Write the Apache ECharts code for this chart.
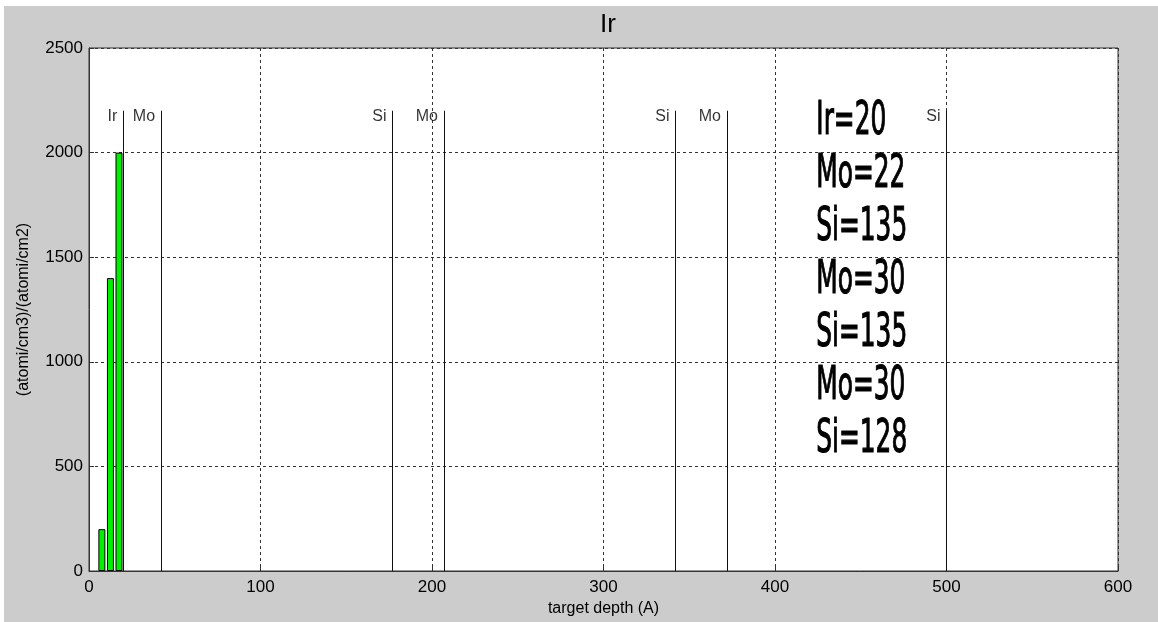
<!DOCTYPE html>
<html lang="en">
<head>
    <meta charset="UTF-8">
    <title>Ir</title>
    <script src="https://cdn.jsdelivr.net/npm/echarts@6/dist/echarts.min.js"></script>
    <style>
        body { margin: 0; background: #fff; }
        #main { position: absolute; left: 4px; top: 6px; width: 1154px; height: 616px; background: #cccccc; }
    </style>
</head>
<body>
    <div id="main"></div>
    <script>
        // depth bins (centre, A) and counts
        var binCenters = [7.5, 12.5, 17.5];
        var binValues = [200, 1400, 2000];
        // layer boundaries (cumulative depth) and their names
        var layerNames = ['Ir', 'Mo', 'Si', 'Mo', 'Si', 'Mo', 'Si'];
        var layerEnds = [20, 42, 177, 207, 342, 372, 500];
        var layerLineTop = 2200;
        var labelY = 2170;
        var stackText = ['Ir=20', 'Mo=22', 'Si=135', 'Mo=30', 'Si=135', 'Mo=30', 'Si=128'];
        var xTicks = [0, 100, 200, 300, 400, 500, 600];
        var yTicks = [0, 500, 1000, 1500, 2000, 2500];

        var font = 'Liberation Sans, Arial, sans-serif';
        var chart = echarts.init(document.getElementById('main'));

        var barData = binCenters.map(function (x, i) { return [x, binValues[i]]; });
        var lineData = layerEnds.map(function (x) {
            return [{ coord: [x, 0] }, { coord: [x, layerLineTop] }];
        });
        var labelData = layerEnds.map(function (x, i) { return { value: [x, labelY], name: layerNames[i] }; });

        // the big layer summary on the right
        var textGraphics = stackText.map(function (t, i) {
            return {
                type: 'text',
                left: 812,
                top: 92 + i * 53,
                scaleX: 0.54,
                style: {
                    text: t, fontSize: 46, fontFamily: 'DejaVu Sans', fill: '#000',
                    stroke: '#000', lineWidth: 1.2
                }
            };
        });

        chart.setOption({
            animation: false,
            title: {
                text: 'Ir', left: 599, textAlign: 'center', top: 1,
                textStyle: { fontSize: 26, fontWeight: 'normal', color: '#000', fontFamily: font }
            },
            grid: { left: 85, right: 40, top: 42, bottom: 51, show: true, backgroundColor: '#fff', borderColor: '#333', borderWidth: 1 },
            graphic: textGraphics,
            xAxis: {
                type: 'value', min: xTicks[0], max: xTicks[xTicks.length - 1], interval: 100,
                name: 'target depth (A)', nameLocation: 'middle', nameGap: 26,
                nameTextStyle: { fontSize: 16, color: '#000', fontFamily: font },
                axisLine: { lineStyle: { color: '#333' } },
                axisTick: { inside: true, length: 5, lineStyle: { color: '#333' } },
                axisLabel: { fontSize: 17, color: '#000', fontFamily: font, margin: 8 },
                splitLine: { show: true, lineStyle: { type: [3, 3], color: '#333', width: 1 } }
            },
            yAxis: {
                type: 'value', min: yTicks[0], max: yTicks[yTicks.length - 1], interval: 500,
                name: '(atomi/cm3)/(atomi/cm2)', nameLocation: 'middle', nameGap: 57,
                nameTextStyle: { fontSize: 16, color: '#000', fontFamily: font },
                axisLine: { show: true, lineStyle: { color: '#333' } },
                axisTick: { show: true, inside: true, length: 5, lineStyle: { color: '#333' } },
                axisLabel: {
                    fontSize: 17, color: '#000', fontFamily: font, margin: 6,
                    formatter: function (v) { return String(v); }
                },
                splitLine: { show: true, lineStyle: { type: [3, 3], color: '#333', width: 1 } }
            },
            series: [
                {
                    type: 'bar',
                    data: barData,
                    barWidth: 7,
                    itemStyle: { color: '#00f000', borderColor: '#000', borderWidth: 1 }
                },
                {
                    type: 'scatter',
                    data: labelData,
                    symbolSize: 0,
                    silent: true,
                    label: {
                        show: true, position: 'left', distance: 6,
                        formatter: function (p) { return p.name; },
                        fontSize: 16, color: '#000', fontFamily: font
                    },
                    markLine: {
                        silent: true,
                        symbol: 'none',
                        label: { show: false },
                        lineStyle: { color: '#111', type: 'solid', width: 1 },
                        data: lineData
                    }
                }
            ]
        });
    </script>
</body>
</html>
